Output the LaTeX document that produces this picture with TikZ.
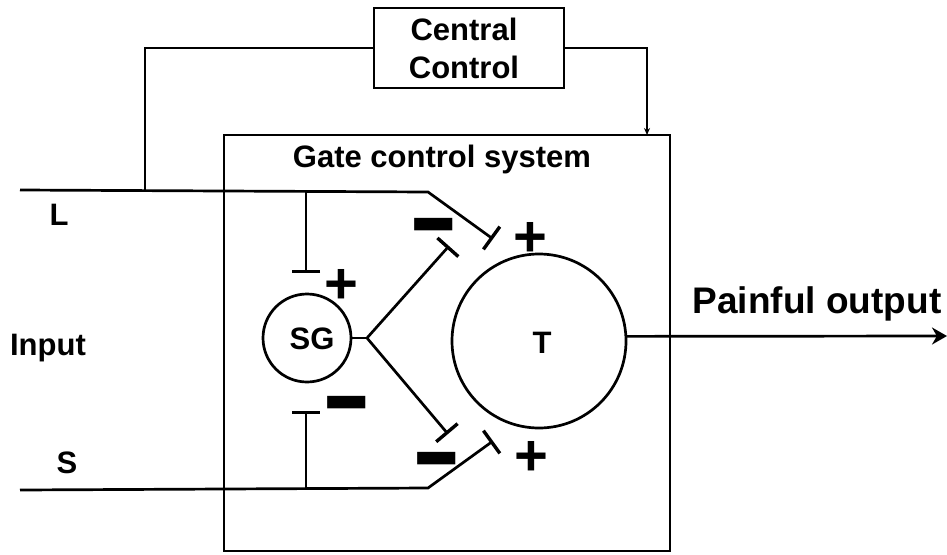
\documentclass[tikz,border=0pt]{standalone}
\usepackage{fontspec}
\usepackage{graphicx}
\setmainfont{Liberation Sans}
\usetikzlibrary{arrows.meta}
\begin{document}
\begin{tikzpicture}[x=1pt,y=-1pt,
  ln/.style={line width=2.7pt},
  inh/.style={ln,-{Bar[width=28pt,line width=3.4pt]}},
  lbl/.style={font=\fontsize{31}{38}\selectfont\bfseries, inner sep=0pt, anchor=base},
  plussign/.style={font=\fontsize{58}{60}\selectfont\bfseries, inner sep=0pt, yshift=-3pt},
  minussign/.style={font=\fontsize{76}{80}\selectfont\bfseries, inner sep=0pt, anchor=base},
  box/.style={draw, ln, inner sep=0pt}
]
\useasboundingbox (0,0) rectangle (947,554);

% boxes and circles
\node[box, minimum width=190pt, minimum height=80pt] (cc) at (469,48) {};
\node[font=\fontsize{31}{38}\selectfont\bfseries, align=center, inner sep=0pt] (cctext) at (464,48) {Central\\Control};
\node[box, minimum width=446pt, minimum height=416pt] (gate) at (447,343) {};
\node[lbl] (gatetext) at (442,167) {Gate control system};
\node[box, circle, minimum size=88pt] (sg) at (307,338) {};
\node[lbl] (sgtext) at (312,349) {SG};
\node[box, circle, minimum size=174pt] (t) at (539,341) {};
\node[lbl] (ttext) at (542,353) {T};

% side labels
\node[lbl] (ltext) at (59,225) {L};
\node[lbl] (inputtext) at (48,355) {Input};
\node[lbl] (stext) at (67,473) {S};
\node[font=\fontsize{37}{44}\selectfont\bfseries, inner sep=0pt, anchor=base] (outtext) at (817,313) {Painful output};

% coordinates
\coordinate (Lin) at (20,190);
\coordinate (Lknee) at (428,192);
\coordinate (Lbar) at (493,239);
\coordinate (Ltap) at (145,190);
\coordinate (Ltap2) at (306,191);
\coordinate (sgbarU) at (306,273);
\coordinate (Sin) at (20,490);
\coordinate (Sknee) at (428,488);
\coordinate (Sbar) at (493,441);
\coordinate (Stap) at (306,489);
\coordinate (sgbarD) at (306,411);
\coordinate (jn) at (367,338);
\coordinate (tbarU) at (449,246);
\coordinate (tbarD) at (448,434);
\coordinate (gtop) at (647,135);
\coordinate (out) at (947,336);

% connectors
\draw[inh] (Lin) -- (Lknee) -- (Lbar);
\draw[ln] (Ltap) |- (cc.west);
\draw[ln, -{Stealth[length=7pt,width=6pt]}] (cc.east) -| (gtop);
\draw[inh] (Ltap2) -- (sgbarU);
\draw[inh] (Sin) -- (Sknee) -- (Sbar);
\draw[inh] (Stap) -- (sgbarD);
\draw[ln] (sg.east) -- (jn);
\draw[inh] (jn) -- (tbarU);
\draw[inh] (jn) -- (tbarD);
\draw[ln, -{Stealth[length=15pt,width=17pt]}] (t.3) -- (out);

% signs
\node[plussign] (p1) at (530,236) {+};
\node[plussign] (p2) at (341,283) {+};
\node[plussign] (p3) at (531,455) {+};
\node[minussign] (m1) at (434,262) {\scalebox{1}[1.5]{−}};
\node[minussign] (m2) at (347,440) {\scalebox{1}[1.5]{−}};
\node[minussign] (m3) at (437,496) {\scalebox{1}[1.5]{−}};
\end{tikzpicture}
\end{document}
